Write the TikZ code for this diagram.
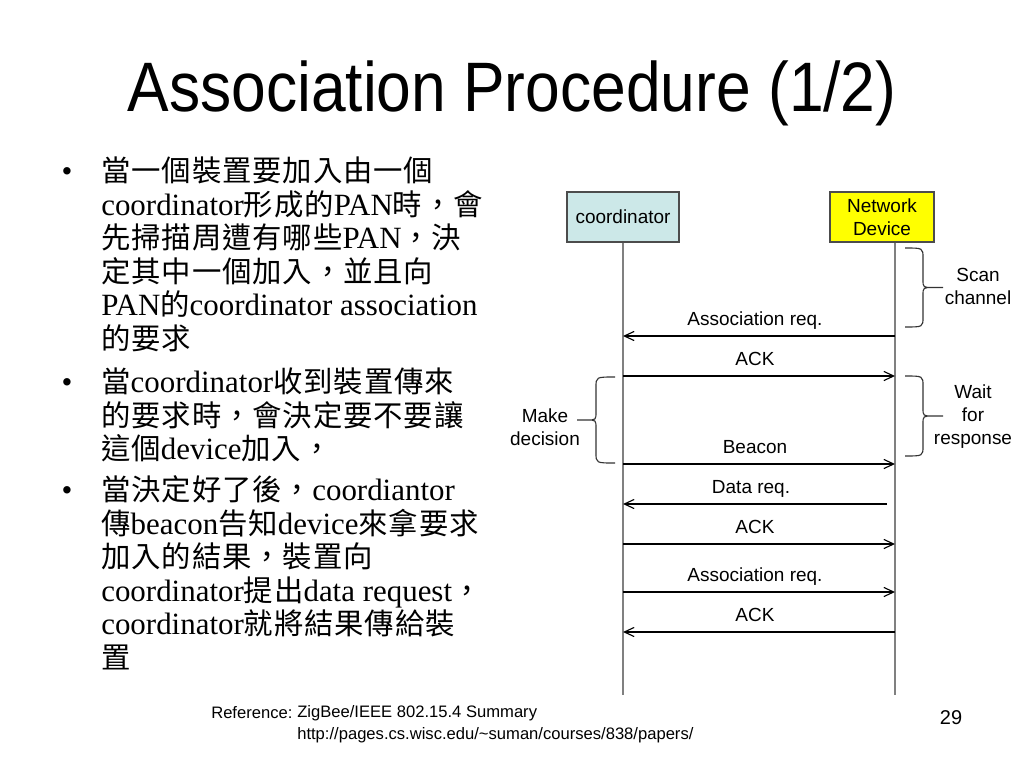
\documentclass[tikz,border=0pt]{standalone}
\usepackage{fontspec}
\usepackage{graphicx}
\setmainfont{Liberation Serif}
\setsansfont{Liberation Sans}
\newfontfamily\zhfont[Scale=0.95,LetterSpace=3]{Noto Sans CJK TC}
\usepackage{tikz}
\usetikzlibrary{arrows.meta,positioning,calc}
\definecolor{boxteal}{RGB}{204,232,232}
\definecolor{boxyellow}{RGB}{255,255,0}
\definecolor{lifegray}{RGB}{128,128,128}
\newcommand{\zw}[1]{{\zhfont#1}}
% 大括號: 端點x, 直線x, 尖端x, 上y, 下y
\newcommand{\sidebrace}[5]{%
  \draw[brc] (#1,#4) .. controls (#2,#4) .. (#2,{#4+10})
    -- (#2,{(#4+#5)/2-8}) .. controls (#2,{(#4+#5)/2}) .. ({(#2+#3)/2},{(#4+#5)/2})
    -- (#3,{(#4+#5)/2})
    ({(#2+#3)/2},{(#4+#5)/2}) .. controls (#2,{(#4+#5)/2}) .. (#2,{(#4+#5)/2+8})
    -- (#2,{#5-10}) .. controls (#2,#5) .. (#1,#5);}

\begin{document}
\begin{tikzpicture}[
  x=0.025cm, y=-0.025cm,
  font=\sffamily\fontsize{13.5}{16.4}\selectfont,
  actor/.style={draw=black!70,thick,minimum height=1.25cm,align=center,inner sep=2pt},
  life/.style={draw=lifegray,line width=1.3pt},
  msg/.style={-{Straight Barb[length=7pt,width=6.5pt]},line width=0.8pt},
  lbl/.style={anchor=base,yshift=7.5pt,xshift=-0.1cm},
  brc/.style={line width=0.8pt,draw=black!80},
  bracelbl/.style={align=center,inner sep=0pt},
  item/.style={font=\rmfamily\fontsize{22}{23.8}\selectfont,align=left,anchor=base west,inner sep=0pt},
  bull/.style={font=\rmfamily\fontsize{22}{23.8}\selectfont,anchor=base,inner sep=0pt},
  foot/.style={font=\sffamily\fontsize{11.8}{15}\selectfont,anchor=base west,align=left,inner sep=0pt},
]
\useasboundingbox (0,0) rectangle (1024,768);

% 標題
\node[font=\sffamily\fontsize{49.8}{60}\selectfont,anchor=base,inner sep=0pt] (title) at (512,112) {\scalebox{0.89}[1]{Association Procedure (1/2)}};

% 說明 (多行節點以最後一行為基線)
\node[bull] (b1) at (67,181.5) {•};
\node[item] (p1) at (101,349) {\zw{當一個裝置要加入由一個}\\coordinator\zw{形成的}PAN\zw{時，會}\\\zw{先掃描周遭有哪些}PAN\zw{，決}\\\zw{定其中一個加入，並且向}\\PAN\zw{的}coordinator association\\\zw{的要求}};
\node[bull] (b2) at (67,392.5) {•};
\node[item] (p2) at (101,459.5) {\zw{當}coordinator\zw{收到裝置傳來}\\\zw{的要求時，會決定要不要讓}\\\zw{這個}device\zw{加入，}};
\node[bull] (b3) at (67,500.5) {•};
\node[item] (p3) at (101,668) {\zw{當決定好了後，}coordiantor\\\zw{傳}beacon\zw{告知}device\zw{來拿要求}\\\zw{加入的結果，裝置向}\\coordinator\zw{提出}data request\zw{，}\\coordinator\zw{就將結果傳給裝}\\\zw{置}};

% 裝置
\node[actor,fill=boxteal,minimum width=2.8cm] (coord) at (623,217) {coordinator};
\node[actor,fill=boxyellow,minimum width=2.6cm] (dev) at (882,217) {Network\\Device};

% 生命線
\coordinate (cend) at (623,695);
\coordinate (dend) at (895,695);
\draw[life] (coord.south) -- (cend);
\draw[life] (dev.south -| dend) -- (dend);

% 訊息
\foreach \n/\y in {1/336,2/376,3/464,4/504,5/544,6/592,7/632} {
  \coordinate (c\n) at (623,\y);
  \coordinate (d\n) at (895,\y);
}
\draw[msg] (d1) -- node[lbl] {Association req.} (c1);
\draw[msg] (c2) -- node[lbl] {ACK} (d2);
\draw[msg] (c3) -- node[lbl] {Beacon} (d3);
\draw[msg] ([xshift=-0.2cm]d4) -- node[lbl] {Data req.} (c4);
\draw[msg] (c5) -- node[lbl] {ACK} (d5);
\draw[msg] (c6) -- node[lbl] {Association req.} (d6);
\draw[msg] (d7) -- node[lbl] {ACK} (c7);

% 括號
\sidebrace{905}{923}{943}{248}{327}
\sidebrace{905}{923}{943}{376}{456}
\sidebrace{615}{596}{577}{377}{463}
\node[bracelbl] (scan) at (978,286) {Scan\\channel};
\node[bracelbl] (wait) at (973,417) {Wait\\for\\response};
\node[bracelbl] (decide) at (545,427) {Make\\decision};

% 頁尾
\node[foot] (refkey) at (211,718) {Reference:};
\node[foot] (refsrc) at (297,739) {ZigBee/IEEE 802.15.4 Summary\\http://pages.cs.wisc.edu/\textasciitilde suman/courses/838/papers/};
\node[font=\sffamily\fontsize{14.2}{17}\selectfont,anchor=base,inner sep=0pt] (pgno) at (951,724) {29};

\end{tikzpicture}
\end{document}
